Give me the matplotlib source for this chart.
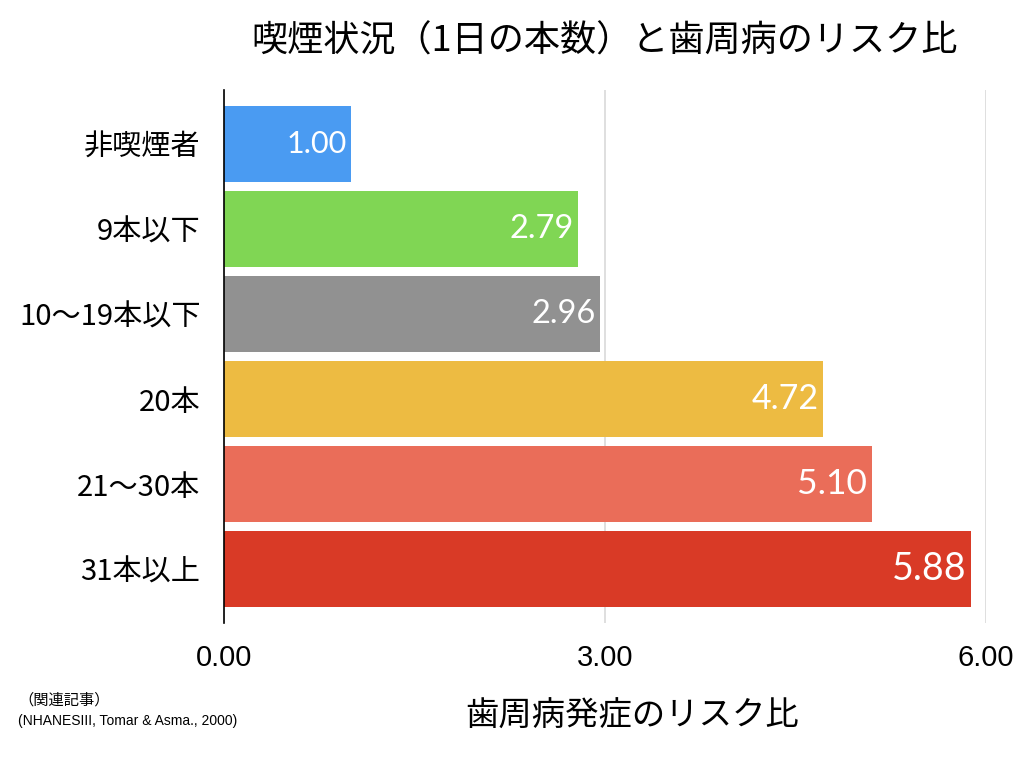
import matplotlib
matplotlib.use("Agg")
import matplotlib.pyplot as plt

plt.rcParams['font.family'] = ['Noto Sans CJK JP', 'DejaVu Sans']

categories = ["非喫煙者", "9本以下", "10〜19本以下", "20本", "21〜30本", "31本以上"]
values = [1.00, 2.79, 2.96, 4.72, 5.10, 5.88]
colors = ["#4A9BF2", "#80D654", "#919191", "#EDBB42", "#EA6D59", "#D93A26"]
label_sizes = [22, 23.5, 23.5, 24.5, 25.5, 27]
xticks = [0, 3, 6]
xtick_labels = ["0.00", "3.00", "6.00"]

fig = plt.figure(figsize=(10.24, 7.68), dpi=100)
ax = fig.add_axes([224/1024, 1 - 623/768, 762/1024, (623-90)/768])

ypos = list(range(len(categories)))
ax.barh(ypos, values, height=0.9, color=colors, zorder=3)
for y, v, s in zip(ypos, values, label_sizes):
    ax.text(v - 0.035, y, f"{v:.2f}", ha="right", va="center", color="white",
            fontsize=s, family=['Lato', 'DejaVu Sans'], zorder=4)

ax.set_xlim(0, 6)
ax.set_ylim(len(categories) - 1 + 0.635, -0.635)
ax.set_yticks(ypos)
ax.set_yticklabels(categories, fontsize=21)
ax.set_xticks(xticks)
ax.set_xticklabels(xtick_labels, fontsize=21, family=['Liberation Sans', 'DejaVu Sans'])
ax.tick_params(axis='both', length=0)
ax.tick_params(axis='y', pad=17)
ax.tick_params(axis='x', pad=15)
ax.grid(axis='x', color='#d6d6d6', linewidth=1.1, zorder=0)
for s in ['top', 'right', 'bottom']:
    ax.spines[s].set_visible(False)
ax.spines['left'].set_color('black')
ax.spines['left'].set_linewidth(1.2)
ax.spines['left'].set_zorder(5)

fig.text(605/1024, 1 - 42/768, "喫煙状況（1日の本数）と歯周病のリスク比", ha="center", va="center", fontsize=26)
fig.text(632/1024, 1 - 716/768, "歯周病発症のリスク比", ha="center", va="center", fontsize=24)
fig.text(18/1024, 1 - 700/768, "（関連記事）", ha="left", va="center", fontsize=11)
fig.text(18/1024, 1 - 721/768, "(NHANESIII, Tomar & Asma., 2000)", ha="left", va="center", fontsize=10,
         family=['Liberation Sans', 'DejaVu Sans'])

fig.savefig("out.png", dpi=100)
